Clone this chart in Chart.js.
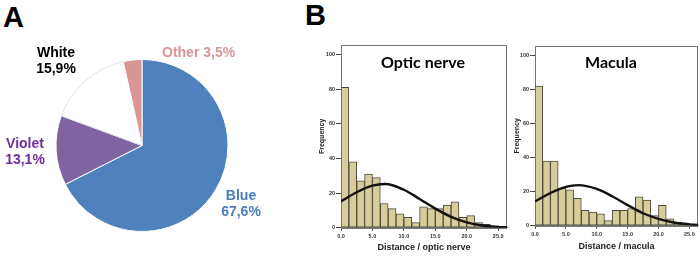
<!DOCTYPE html>
<html>
<head>
<meta charset="utf-8">
<script src="https://cdn.jsdelivr.net/npm/chart.js"></script>
<style>
  body { margin: 0; background: #fff; }
  #wrap { position: relative; width: 700px; height: 257px; overflow: hidden; font-family: "Liberation Sans", Arial, sans-serif; }
  #wrap canvas, .txt { position: absolute; }
  .panel { font-size: 29px; font-weight: bold; line-height: 29px; color: #000; }
  .plab { font-size: 14px; font-weight: bold; line-height: 16px; text-align: center; white-space: nowrap; width: 80px; }
  .htitle { font-family: Lato, sans-serif; font-size: 16px; font-weight: bold; line-height: 20px; text-align: center; width: 120px; color: #000; }
</style>
</head>
<body>
<div id="wrap">
  <div class="txt panel" style="left:3px;top:3px">A</div>
  <div class="txt panel" style="left:305px;top:1px">B</div>
  <canvas id="pie" width="174" height="175" style="left:55px;top:58px"></canvas>
  <canvas id="optic" width="210" height="217" style="left:300px;top:40px"></canvas>
  <canvas id="macula" width="205" height="217" style="left:495px;top:40px"></canvas>
  <div class="txt htitle" style="left:363px;top:52px">Optic nerve</div>
  <div class="txt htitle" style="left:551px;top:52px">Macula</div>
</div>
<script>
// panel A
const pieLabels = ['Blue', 'Violet', 'White', 'Other'];
const pieValues = [67.6, 13.1, 15.9, 3.5];
const pieColors = ['#4f81bd', '#8064a2', '#ffffff', '#d99694'];
const pieTextColors = ['#4a7ebb', '#7030a0', '#000000', '#d99694'];

// panel B
const binStarts = [0, 1.25, 2.5, 3.75, 5, 6.25, 7.5, 8.75, 10, 11.25, 12.5, 13.75, 15, 16.25, 17.5, 18.75, 20, 21.25, 22.5];
const binWidth = 1.25;
const opticCounts = [81, 38, 27, 31, 29, 14, 11, 8, 6, 3, 12, 11, 11, 13, 15, 6, 7, 3, 2];
const maculaCounts = [82, 38, 38, 22, 21, 16, 9, 8, 7, 3, 9, 9, 10, 17, 15, 6, 12, 4, 2];

const curveX = [0, 2.5, 5, 7, 10, 12.5, 15, 17.5, 20, 22.5, 25, 26.4];
const opticCurve = [15.2, 20.5, 24.3, 25.2, 21.9, 16.6, 11.0, 6.3, 3.1, 1.3, 0.5, 0.25];
const maculaCurve = [14.3, 19.2, 22.8, 23.8, 21.6, 17.3, 12.1, 7.3, 4.0, 1.9, 0.8, 0.45];

const xTicks = [0, 5, 10, 15, 20, 25];
const yTicks = [0, 20, 40, 60, 80, 100];

// label boxes for the pie (left, top)
const pieLabelPos = [[201, 187], [-15, 135], [16, 44], [162, 44]];

const frame = {
  id: 'frame',
  beforeDatasetsDraw(chart) {
    const a = chart.chartArea, c = chart.ctx;
    c.save();
    c.strokeStyle = '#777';
    c.lineWidth = 1;
    c.strokeRect(Math.round(a.left) + 0.5, Math.round(a.top) + 0.5, Math.round(a.right - a.left) - 1, Math.round(a.bottom - a.top));
    c.restore();
  }
};

function histogram(id, counts, curve, xTitle, pad, yWidth, xHeight, yTitlePad, xTitlePad) {
  const tickFont = {family: '"Liberation Sans", Arial', size: 5.5, weight: 'bold'};
  new Chart(document.getElementById(id), {
    type: 'bar',
    data: {
      datasets: [{
        type: 'line',
        data: curveX.map((x, i) => ({x: x, y: curve[i]})),
        borderColor: '#111',
        borderWidth: 2.4,
        pointRadius: 0,
        cubicInterpolationMode: 'monotone',
        fill: false
      }, {
        data: binStarts.map((s, i) => ({x: s + binWidth / 2, y: counts[i]})),
        backgroundColor: '#d6cd9a',
        borderColor: '#4d4a3c',
        borderWidth: 1,
        borderSkipped: false,
        barPercentage: 1,
        categoryPercentage: 1
      }]
    },
    options: {
      responsive: false,
      animation: false,
      layout: {padding: pad},
      plugins: {legend: {display: false}, tooltip: {enabled: false}},
      scales: {
        x: {
          type: 'linear', min: 0, max: 26.4, offset: false,
          afterBuildTicks: s => { s.ticks = xTicks.map(v => ({value: v})); },
          afterFit: s => { s.height = xHeight; },
          grid: {drawOnChartArea: false, offset: false, tickLength: 3, color: '#444'},
          border: {color: '#777'},
          ticks: {font: tickFont, color: '#333', padding: 2, maxRotation: 0, autoSkip: false, callback: v => v.toFixed(1)},
          title: {display: true, text: xTitle, color: '#222', font: {family: '"Liberation Sans", Arial', size: 9, weight: 'bold'}, padding: {top: 0, bottom: xTitlePad}}
        },
        y: {
          min: 0, max: 105.5,
          afterBuildTicks: s => { s.ticks = yTicks.map(v => ({value: v})); },
          afterFit: s => { s.width = yWidth; },
          grid: {drawOnChartArea: false, tickLength: 5, color: '#444'},
          border: {color: '#777'},
          ticks: {font: tickFont, color: '#333', padding: 1, autoSkip: false},
          title: {display: true, text: 'Frequency', color: '#222', font: {family: '"Liberation Sans", Arial', size: 7, weight: 'bold'}, padding: {top: yTitlePad, bottom: 0}}
        }
      }
    },
    plugins: [frame]
  });
}

document.addEventListener('DOMContentLoaded', function() {
  new Chart(document.getElementById('pie'), {
    type: 'pie',
    data: {
      labels: pieLabels,
      datasets: [{
        data: pieValues,
        backgroundColor: pieColors,
        borderColor: ['#ffffff', '#ffffff', '#e2e2e2', '#ffffff'],
        borderWidth: 1,
        radius: 86,
        hoverOffset: 0
      }]
    },
    options: {
      responsive: false,
      animation: false,
      layout: {autoPadding: false},
      plugins: {legend: {display: false}, tooltip: {enabled: false}}
    }
  });

  const wrap = document.getElementById('wrap');
  pieLabels.forEach((name, i) => {
    const d = document.createElement('div');
    d.className = 'txt plab';
    d.style.left = pieLabelPos[i][0] + 'px';
    d.style.top = pieLabelPos[i][1] + 'px';
    d.style.color = pieTextColors[i];
    const pct = pieValues[i].toFixed(1).replace('.', ',') + '%';
    if (name === 'Other') {
      d.style.textAlign = 'left';
      d.textContent = name + ' ' + pct;
    } else {
      d.innerHTML = name + '<br>' + pct;
    }
    wrap.appendChild(d);
  });

  histogram('optic', opticCounts, opticCurve, 'Distance / optic nerve', {left: 0, right: 3, top: 5, bottom: 0}, 41, 29.3, 17.8, 3.6);
  histogram('macula', maculaCounts, maculaCurve, 'Distance / macula', {left: 0, right: 2, top: 6, bottom: 0}, 40, 31.3, 17.5, 4.9);
});
</script>
</body>
</html>
